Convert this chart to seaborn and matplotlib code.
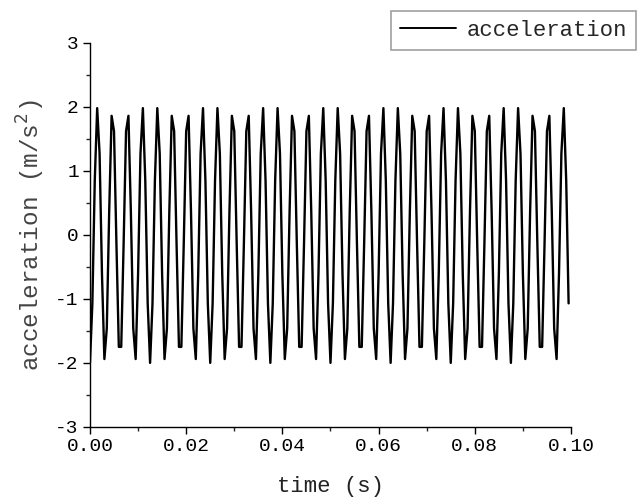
import matplotlib
matplotlib.use("Agg")
import matplotlib.pyplot as plt
from matplotlib.ticker import MultipleLocator
from matplotlib.lines import Line2D
import seaborn as sns
import pandas as pd

# sampled at 0.0005 s steps, 200 samples from 0 to 0.0995 s
sample_step = 0.0005
accel = [
    -2.00, -1.07, 0.85, 1.98, 1.27, -0.62, -1.94, -1.46, 0.37, 1.86, 1.62, -0.13, -1.75,
    -1.75, -0.13, 1.62, 1.86, 0.37, -1.46, -1.94, -0.62, 1.27, 1.98, 0.85, -1.07,
    -2.00, -1.07, 0.85, 1.98, 1.27, -0.62, -1.94, -1.46, 0.37, 1.86, 1.62, -0.13, -1.75,
    -1.75, -0.13, 1.62, 1.86, 0.37, -1.46, -1.94, -0.62, 1.27, 1.98, 0.85, -1.07,
    -2.00, -1.07, 0.85, 1.98, 1.27, -0.62, -1.94, -1.46, 0.37, 1.86, 1.62, -0.13, -1.75,
    -1.75, -0.13, 1.62, 1.86, 0.37, -1.46, -1.94, -0.62, 1.27, 1.98, 0.85, -1.07,
    -2.00, -1.07, 0.85, 1.98, 1.27, -0.62, -1.94, -1.46, 0.37, 1.86, 1.62, -0.13, -1.75,
    -1.75, -0.13, 1.62, 1.86, 0.37, -1.46, -1.94, -0.62, 1.27, 1.98, 0.85, -1.07,
    -2.00, -1.07, 0.85, 1.98, 1.27, -0.62, -1.94, -1.46, 0.37, 1.86, 1.62, -0.13, -1.75,
    -1.75, -0.13, 1.62, 1.86, 0.37, -1.46, -1.94, -0.62, 1.27, 1.98, 0.85, -1.07,
    -2.00, -1.07, 0.85, 1.98, 1.27, -0.62, -1.94, -1.46, 0.37, 1.86, 1.62, -0.13, -1.75,
    -1.75, -0.13, 1.62, 1.86, 0.37, -1.46, -1.94, -0.62, 1.27, 1.98, 0.85, -1.07,
    -2.00, -1.07, 0.85, 1.98, 1.27, -0.62, -1.94, -1.46, 0.37, 1.86, 1.62, -0.13, -1.75,
    -1.75, -0.13, 1.62, 1.86, 0.37, -1.46, -1.94, -0.62, 1.27, 1.98, 0.85, -1.07,
    -2.00, -1.07, 0.85, 1.98, 1.27, -0.62, -1.94, -1.46, 0.37, 1.86, 1.62, -0.13, -1.75,
    -1.75, -0.13, 1.62, 1.86, 0.37, -1.46, -1.94, -0.62, 1.27, 1.98, 0.85, -1.07,
]
time = [i * sample_step for i in range(len(accel))]

x_ticks = [0.00, 0.02, 0.04, 0.06, 0.08, 0.10]
x_tick_labels = ["0.00", "0.02", "0.04", "0.06", "0.08", "0.10"]
y_ticks = [-3, -2, -1, 0, 1, 2, 3]

sns.set_style("ticks")
plt.rcParams["font.family"] = ["Liberation Mono", "DejaVu Sans Mono"]

df = pd.DataFrame({"time": time, "accel": accel, "series": "acceleration"})

fig = plt.figure(figsize=(6.38, 5.04), dpi=100)
ax = fig.add_axes([0.141, 0.153, 0.754, 0.762])

sns.lineplot(data=df, x="time", y="accel", hue="series", palette=["black"],
             linewidth=1.7, ax=ax, legend=False, estimator=None, sort=False)

ax.set_xlim(0, 0.10)
ax.set_ylim(-3, 3)
ax.set_xticks(x_ticks)
ax.set_xticklabels(x_tick_labels)
ax.set_yticks(y_ticks)
ax.set_yticklabels([str(v) for v in y_ticks])
ax.xaxis.set_minor_locator(MultipleLocator(0.01))
ax.yaxis.set_minor_locator(MultipleLocator(0.5))
ax.tick_params(axis="both", which="major", direction="out", length=5, width=1,
               labelsize=14, colors="black", pad=3)
ax.tick_params(axis="both", which="minor", direction="out", length=3, width=1)

for s in ["top", "right"]:
    ax.spines[s].set_visible(False)
for s in ["left", "bottom"]:
    ax.spines[s].set_color("black")
    ax.spines[s].set_linewidth(1.0)

ax.set_xlabel("time (s)", fontsize=16, labelpad=15, color="#222222")
ax.set_ylabel("acceleration (m/s$^2$)", fontsize=17.5, labelpad=6, color="#444444")

handle = Line2D([], [], color="black", linewidth=1.4)
leg = fig.legend([handle], ["acceleration"], loc="upper right",
                 bbox_to_anchor=(0.997, 0.978), borderaxespad=0.0,
                 frameon=True, fancybox=False,
                 prop={"size": 16}, handlelength=2.5, borderpad=0.4,
                 handletextpad=0.5)
leg.get_frame().set_edgecolor("#888888")
leg.get_frame().set_linewidth(1.2)

fig.savefig("out.png", dpi=100)
